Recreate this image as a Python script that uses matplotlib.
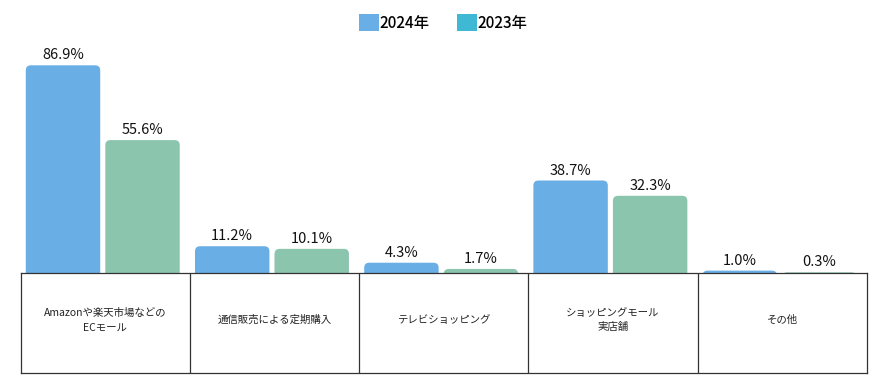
import matplotlib
matplotlib.use("Agg")
import matplotlib.pyplot as plt
from matplotlib.patches import FancyBboxPatch, Patch

plt.rcParams['font.family'] = ['Noto Sans CJK JP', 'DejaVu Sans']

categories = ["Amazonや楽天市場などの\nECモール", "通信販売による定期購入", "テレビショッピング",
              "ショッピングモール\n実店舗", "その他"]
v2024 = [86.9, 11.2, 4.3, 38.7, 1.0]
v2023 = [55.6, 10.1, 1.7, 32.3, 0.3]

c2024 = "#6aaee6"
c2023 = "#8cc5ae"
c2023_legend = "#3fb8d4"

fig = plt.figure(figsize=(8.86, 3.88), dpi=100)
W, H = 886, 388
left, right = 20.7, 866.7
base, tbot, top = 273, 373, 50
ymax = 93.3

ax = fig.add_axes([left / W, (H - base) / H, (right - left) / W, (base - top) / H])
ax.set_xlim(0, 5)
ax.set_ylim(0, ymax)
ax.axis("off")

px_x = (right - left) / 5
px_y = (base - top) / ymax
aspect = px_x / px_y
bw = 0.44

def rbar(xc, h, color):
    p = FancyBboxPatch((xc - bw / 2, -5), bw, h + 5,
                       boxstyle="round,pad=0,rounding_size=0.03",
                       mutation_aspect=aspect, fc=color, ec="none")
    ax.add_patch(p)
    ax.text(xc, h + 1.2, f"{h:.1f}%", ha="center", va="bottom", fontsize=10.5, color="#111111")

for i in range(5):
    rbar(i + 0.25, v2024[i], c2024)
    rbar(i + 0.72, v2023[i], c2023)

tab = fig.add_axes([left / W, (H - tbot) / H, (right - left) / W, (tbot - base) / H])
tab.set_xlim(0, 5)
tab.set_ylim(0, 1)
tab.set_xticks([])
tab.set_yticks([])
for s in tab.spines.values():
    s.set_color("#333333")
    s.set_linewidth(0.9)
for i in range(1, 5):
    tab.axvline(i, color="#333333", lw=0.9)
for i, c in enumerate(categories):
    tab.text(i + 0.5, 0.53, c, ha="center", va="center", fontsize=7.5,
             color="#222222", linespacing=1.6)

handles = [Patch(fc=c2024, ec="none", label="2024年"),
           Patch(fc=c2023_legend, ec="none", label="2023年")]
fig.legend(handles=handles, loc="center", bbox_to_anchor=(443 / W, 1 - 23 / H), ncol=2,
           frameon=False, fontsize=11, handlelength=1.3, handleheight=1.3,
           handletextpad=0.05, columnspacing=1.8, prop={'weight': 'medium', 'size': 11})

fig.savefig("out.png", dpi=100)
